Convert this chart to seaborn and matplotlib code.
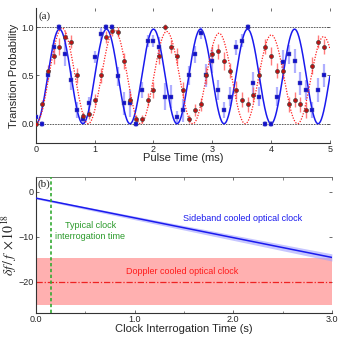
import matplotlib
matplotlib.use("Agg")
import matplotlib.pyplot as plt
import seaborn as sns
import pandas as pd
import numpy as np

sns.set_theme(style="ticks")
plt.rcParams['font.family'] = ['Liberation Sans', 'DejaVu Sans']
plt.rcParams['mathtext.fontset'] = 'stix'

# ---------------- panel (a) data ----------------
pulse_t = [round(0.1 * i, 1) for i in range(50)]
blue_p = [0.07, 0.00, 0.50, 0.79, 1.00, 0.72, 0.45, 0.14, 0.05, 0.21,
          0.69, 0.93, 1.00, 1.00, 0.49, 0.21, 0.21, 0.00, 0.35, 0.86,
          0.86, 0.80, 0.28, 0.28, 0.07, 0.14, 0.50, 0.72, 0.94, 0.50,
          0.65, 0.35, 0.14, 0.28, 0.79, 0.86, 1.00, 0.42, 0.28, 0.00,
          0.00, 0.28, 0.64, 0.72, 0.65, 0.42, 0.35, 0.14, 0.35, 0.50]
blue_err = [0.04, 0.03, 0.06, 0.08, 0.03, 0.12, 0.10, 0.08, 0.05, 0.07,
            0.06, 0.06, 0.03, 0.03, 0.10, 0.12, 0.14, 0.03, 0.08, 0.06,
            0.06, 0.10, 0.14, 0.12, 0.06, 0.12, 0.10, 0.09, 0.06, 0.12,
            0.12, 0.10, 0.08, 0.10, 0.08, 0.07, 0.03, 0.12, 0.10, 0.03,
            0.03, 0.10, 0.12, 0.10, 0.12, 0.12, 0.10, 0.08, 0.12, 0.12]
red_p = [0.00, 0.20, 0.55, 0.70, 0.80, 0.90, 0.85, 0.50, 0.08, 0.10,
         0.25, 0.50, 0.90, 0.96, 0.95, 0.65, 0.25, 0.05, 0.05, 0.25,
         0.35, 0.70, 1.00, 0.80, 0.70, 0.35, 0.05, 0.14, 0.20, 0.50,
         0.72, 0.75, 0.65, 0.55, 0.35, 0.25, 0.20, 0.30, 0.50, 0.80,
         0.70, 0.55, 0.55, 0.20, 0.25, 0.20, 0.14, 0.60, 0.85, 0.80]
red_err = [0.02, 0.05, 0.06, 0.08, 0.09, 0.06, 0.07, 0.08, 0.04, 0.05,
           0.06, 0.08, 0.06, 0.05, 0.05, 0.08, 0.07, 0.04, 0.04, 0.07,
           0.08, 0.08, 0.03, 0.07, 0.08, 0.08, 0.04, 0.06, 0.07, 0.09,
           0.09, 0.08, 0.09, 0.08, 0.09, 0.08, 0.08, 0.08, 0.09, 0.08,
           0.09, 0.08, 0.09, 0.08, 0.08, 0.08, 0.08, 0.09, 0.07, 0.08]

# fit parameters
blue_period, blue_amp = 0.80, 0.98
red_period, red_amp0, red_amp_slope = 0.89, 1.0, 0.02

# ---------------- panel (b) data ----------------
clock_t = [0.0, 3.0]
sideband_shift = [-1.4, -14.6]
sideband_unc = [0.2, 0.8]
doppler_shift = -20.0
doppler_unc = 5.2
typical_time = 0.15

fig = plt.figure(figsize=(3.39, 3.43), dpi=100)
ax1 = fig.add_axes([0.106, 0.583, 0.867, 0.394])
ax2 = fig.add_axes([0.106, 0.087, 0.873, 0.397])

# ---- (a) ----
tt = np.linspace(0, 5, 800)
fit = pd.DataFrame({
    't': tt,
    'blue': blue_amp * np.sin(np.pi * tt / blue_period) ** 2,
    'red': (red_amp0 - red_amp_slope * tt) * np.sin(np.pi * tt / red_period) ** 2,
})
for yv in (0.0, 1.0):
    ax1.axhline(yv, color='#444444', lw=0.6, ls=(0, (2, 1.2)), zorder=1)

ax1.errorbar(pulse_t, blue_p, yerr=blue_err, fmt='none', ecolor='#7b7bff',
             elinewidth=1.6, alpha=0.6, zorder=2)
ax1.errorbar(pulse_t, red_p, yerr=red_err, fmt='none', ecolor='#ff5a5a',
             elinewidth=1.0, alpha=0.8, zorder=2)
sns.lineplot(data=fit, x='t', y='blue', ax=ax1, color='#1a1aee', lw=1.1, zorder=3)
sns.lineplot(data=fit, x='t', y='red', ax=ax1, color='#ff2020', lw=0.9,
             ls=(0, (1, 1.2)), zorder=3)
ax1.scatter(pulse_t, blue_p, marker='s', s=10, color='#1010cc',
            edgecolor='#6666aa', linewidth=0.3, zorder=4)
ax1.scatter(pulse_t, red_p, marker='o', s=8, color='#c01010',
            edgecolor='#444444', linewidth=0.5, zorder=4)

ax1.set_xlim(0, 5)
ax1.set_ylim(-0.2, 1.2)
ax1.set_xticks([0, 1, 2, 3, 4, 5])
ax1.set_yticks([0.0, 0.5, 1.0])
ax1.set_yticklabels(['0.0', '0.5', '1.0'])
ax1.set_xlabel('Pulse Time (ms)', fontsize=8, labelpad=-1)
ax1.set_ylabel('Transition Probability', fontsize=8, labelpad=2)
ax1.text(0.04, 1.11, '(a)', fontsize=8, family=['Liberation Serif'],
         va='center', ha='left')

# ---- (b) ----
ax2.axhspan(doppler_shift - doppler_unc, doppler_shift + doppler_unc,
            color='#ffb0b0', lw=0, zorder=0)
ax2.axhline(doppler_shift, color='#ee2222', lw=0.9, ls=(0, (5, 1.5, 1, 1.5)), zorder=1)
lower = [s - u for s, u in zip(sideband_shift, sideband_unc)]
upper = [s + u for s, u in zip(sideband_shift, sideband_unc)]
ax2.fill_between(clock_t, lower, upper, color='#a0a0ff', alpha=0.6, lw=0, zorder=2)
sns.lineplot(x=clock_t, y=sideband_shift, ax=ax2, color='#1a1aee', lw=1.1, zorder=3)
ax2.axvline(typical_time, color='#33aa33', lw=1.2, ls=(0, (2, 1.5)), zorder=3)

ax2.text(0.55, -8.8, 'Typical clock\ninterrogation time', color='#2a9a2a',
         fontsize=6.5, ha='center', va='center', linespacing=1.3)
ax2.text(1.48, -17.8, 'Doppler cooled optical clock', color='#ff1a1a',
         fontsize=6.5, ha='center', va='center')
ax2.text(2.09, -5.9, 'Sideband cooled optical clock', color='#1a1aee',
         fontsize=6.5, ha='center', va='center')
ax2.text(0.02, 1.6, '(b)', fontsize=8, family=['Liberation Serif'],
         va='center', ha='left')

ax2.set_xlim(0, 3.0)
ax2.set_ylim(-27, 3.3)
ax2.set_xticks([0.0, 1.0, 2.0, 3.0])
ax2.set_xticklabels(['0.0', '1.0', '2.0', '3.0'])
ax2.set_xticks([0.5, 1.5, 2.5], minor=True)
ax2.set_yticks([0, -10, -20])
ax2.set_xlabel('Clock Interrogation Time (s)', fontsize=8, labelpad=0)
ax2.set_ylabel(r'$\delta f\,/\,f\;\times10^{18}$', fontsize=10, labelpad=0)

for ax in (ax1, ax2):
    ax.tick_params(direction='in', top=True, right=True, labelsize=6.5,
                   length=2.5, width=0.6, pad=1.5, color='#555555')
    ax.tick_params(which='minor', direction='in', top=True, length=1.8,
                   width=0.5, color='#555555')
    for side in ('left', 'bottom'):
        ax.spines[side].set_linewidth(0.8)
        ax.spines[side].set_color('#333333')
    ax.spines['right'].set_visible(False)
ax1.spines['top'].set_visible(False)
ax2.spines['top'].set_linewidth(0.6)
ax2.spines['top'].set_color('#555555')

fig.savefig('out.png', dpi=100)
